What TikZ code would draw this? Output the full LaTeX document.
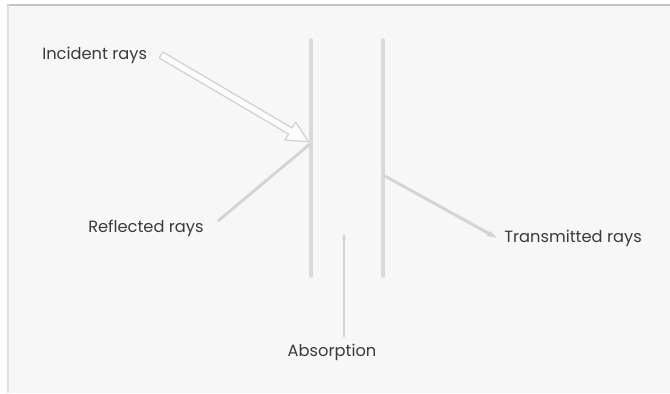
\documentclass[tikz,border=0pt]{standalone}
\usepackage{fontspec}
\setmainfont{Poppins}
\usetikzlibrary{arrows.meta,calc}
\definecolor{bg}{HTML}{F7F7F7}
\definecolor{plate}{HTML}{D9D9D9}
\definecolor{ray}{HTML}{D4D4D4}
\definecolor{txt}{HTML}{3A3A3A}
\definecolor{frameline}{HTML}{C4C4C4}
\tikzset{
  lbl/.style={font=\fontsize{12.2}{14}\selectfont, text=txt, inner sep=0pt},
  platebar/.style={draw=plate, line width=2.4pt, line cap=round},
  rayline/.style={draw=ray, line width=2.2pt},
  thinline/.style={draw=ray, line width=1.1pt},
}
\begin{document}
\begin{tikzpicture}[x=0.75pt,y=-0.75pt]
\useasboundingbox (0,0) rectangle (670,393);
\fill[white] (0,0) rectangle (670,393);
\fill[bg] (7,5) rectangle (670,393);
\draw[frameline, line width=1.2pt] (7,5) -- (670,5);
\draw[draw=black!12, line width=1.5pt] (7.5,5) -- (7.5,393);
% plates
\coordinate (p1t) at (311,40);
\coordinate (p1b) at (311,276);
\coordinate (p2t) at (383,40);
\coordinate (p2b) at (383,276);
\draw[platebar] (p1t) -- (p1b);
\draw[platebar] (p2t) -- (p2b);
% labels
\node[lbl, anchor=west] (inc) at (42,55) {Incident rays};
\node[lbl, anchor=west] (refl) at (88,228) {Reflected rays};
\node[lbl, anchor=west] (trans) at (504,238) {Transmitted rays};
\node[lbl] (abs) at (332,352) {Absorption};
% hit points
\coordinate (ain) at (161,55);
\coordinate (hit) at (310,144);
\coordinate (exit) at (383,175);
\coordinate (absTop) at (344,233);
\coordinate (reflEnd) at (218,221);
\coordinate (transEnd) at (497,238);
\coordinate (absBot) at (344,337);
% incident block arrow
\begin{scope}[shift={(ain)}, rotate=-30.45]
  \draw[frameline!80, fill=white!60!bg, line width=0.9pt, line join=round]
    (0,-3.5) -- (150,-3.5) -- (150,-10.5) -- (171,0) -- (150,10.5) -- (150,3.5) -- (0,3.5) -- cycle;
\end{scope}
% reflected
\draw[rayline] (hit) -- (reflEnd);
% transmitted
\draw[rayline, -{Stealth[length=8pt,width=5pt]}] (exit) -- (transEnd);
% absorption
\draw[thinline, {Stealth[length=5pt,width=3pt]}-] (absTop) -- (absBot);
\end{tikzpicture}
\end{document}
